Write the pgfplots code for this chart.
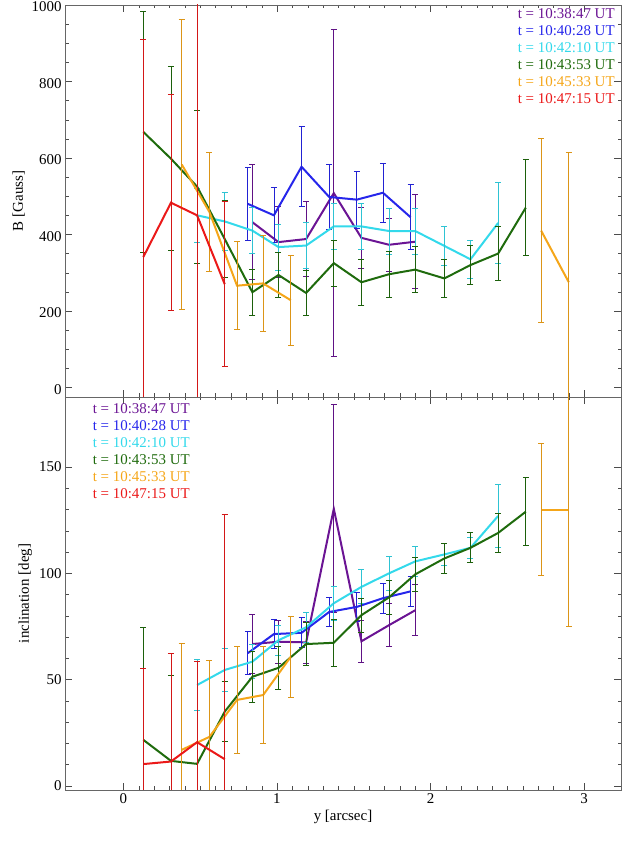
\documentclass[border=0pt]{standalone}
\usepackage{pgfplots}
\pgfplotsset{compat=1.18}
\usepackage{fontspec}
\setmainfont{Liberation Serif}
\definecolor{cpur}{rgb}{0.42,0.08,0.58}
\definecolor{cblu}{rgb}{0.15,0.15,0.92}
\definecolor{ccya}{rgb}{0.2,0.85,0.92}
\definecolor{cgre}{rgb}{0.12,0.42,0.05}
\definecolor{cora}{rgb}{0.96,0.65,0.1}
\definecolor{cred}{rgb}{0.92,0.1,0.1}
\newcommand\fs{\fontsize{15}{17}\selectfont}
\pgfplotsset{
 base/.style={scale only axis, width=556bp, xmin=-0.38, xmax=3.24,
  xtick={0,1,2,3}, minor x tick num=9, minor y tick num=3,
  tick style={black!70}, axis line style={black!60},
  tick align=inside, major tick length=7bp, minor tick length=3.5bp,
  /pgf/number format/assume math mode=true, tick label style={font=\fs},
  label style={font=\fs}, /pgf/number format/1000 sep={}},
 ser/.style={color=#1, solid, line width=2bp, no marks, error bars/.cd, y dir=both, y explicit,
  error mark options={rotate=90,mark size=3bp,#1!90!black,line width=0.9bp},
  error bar style={#1!90!black, line width=0.7bp, solid}},
}
\begin{document}
\begin{tikzpicture}[x=1bp,y=1bp]
\useasboundingbox (0,0) rectangle (623,841);
% ---------- top
\begin{axis}[base, at={(65bp,444bp)}, anchor=south west, height=392bp,
 ymin=-25, ymax=1000, ytick={0,200,400,600,800,1000}, xticklabels={},
 ylabel={B [Gauss]}, yticklabel style={yshift=-2bp}]
\addplot[ser=cpur] table[y error index=2]{
0.84 432 150
1.01 380 92
1.19 388 97
1.37 508 428
1.55 391 80
1.73 373 70
1.90 381 123
};
\addplot[ser=cblu] table[y error index=2]{
0.81 480 95
0.98 450 72
1.16 577 105
1.34 498 85
1.52 491 75
1.69 509 77
1.87 445 85
};
\addplot[ser=ccya] table[y error index=2]{
0.48 450 70
0.66 434 77
0.84 410 60
1.01 367 60
1.19 371 60
1.37 421 60
1.55 421 60
1.73 409 60
1.90 409 60
2.09 370 50
2.26 335 50
2.44 430 105
};
\addplot[ser=cgre] table[y error index=2]{
0.13 668 315
0.31 598 240
0.48 525 200
0.66 388 100
0.84 249 60
1.01 294 60
1.19 247 60
1.37 325 60
1.55 275 60
1.73 296 60
1.90 308 60
2.09 285 50
2.26 320 50
2.44 350 70
2.62 470 125
};
\addplot[ser=cora] table[y error index=2]{
0.38 583 380
0.56 459 155
0.74 266 115
0.91 272 125
1.09 228 118
};
\addplot[ser=cora] table[y error index=2]{
2.72 410 240
2.90 275 340
};
\addplot[ser=cred] table[y error index=2]{
0.13 341 570
0.31 483 283
0.48 450 560
0.66 270 215
};
\node[anchor=north east, align=right, font=\fs, inner sep=0pt] at (axis cs:3.2,990) {%
\textcolor{cpur}{t = 10:38:47 UT}\\\textcolor{cblu}{t = 10:40:28 UT}\\\textcolor{ccya}{t = 10:42:10 UT}\\%
\textcolor{cgre}{t = 10:43:53 UT}\\\textcolor{cora}{t = 10:45:33 UT}\\\textcolor{cred}{t = 10:47:15 UT}};
\end{axis}
% ---------- bottom
\begin{axis}[base, at={(65bp,51bp)}, anchor=south west, height=393bp,
 ymin=-2, ymax=183, ytick={0,50,100,150}, minor y tick num=4,
 ylabel={inclination [deg]}, xlabel={y [arcsec]}]
\addplot[ser=cpur] table[y error index=2]{
0.84 66.7 14
1.01 67.8 10
1.19 67.5 10
1.37 130.4 49
1.55 68 10
1.73 75.6 10
1.90 82.6 12
};
\addplot[ser=cblu] table[y error index=2]{
0.81 62.4 10
0.98 71.4 7
1.16 72 7
1.34 81.8 7
1.52 84.2 7
1.69 88.3 7
1.87 91.5 7
};
\addplot[ser=ccya] table[y error index=2]{
0.48 47.4 12
0.66 54.5 10
0.84 58.4 8
1.01 68.5 7
1.19 74.6 7
1.37 85.9 8
1.55 93.6 8
1.73 100 8
1.90 105.6 7
2.09 108.9 5
2.26 112 5
2.44 127 15
};
\addplot[ser=cgre] table[y error index=2]{
0.13 21.6 53
0.31 11.7 40
0.48 10.3 48
0.66 34.9 14
0.84 51.3 12
1.01 55.5 10
1.19 66.7 10
1.37 67.3 11
1.55 80.3 8
1.73 88.7 8
1.90 99.5 8
2.09 107 7
2.26 112 7
2.44 119 9
2.62 129 16
};
\addplot[ser=cora] table[y error index=2]{
0.38 16.9 50
0.56 23 36
0.74 40.4 25
0.91 42.7 23
1.09 60.7 19
};
\addplot[ser=cora] table[y error index=2]{
2.72 130 31
2.90 130 55
};
\addplot[ser=cred] table[y error index=2]{
0.13 10.2 45
0.31 11.4 51
0.48 20.5 38
0.66 12.5 115
};
\node[anchor=north west, align=left, font=\fs, inner sep=0pt] at (axis cs:-0.2,180) {%
\textcolor{cpur}{t = 10:38:47 UT}\\\textcolor{cblu}{t = 10:40:28 UT}\\\textcolor{ccya}{t = 10:42:10 UT}\\%
\textcolor{cgre}{t = 10:43:53 UT}\\\textcolor{cora}{t = 10:45:33 UT}\\\textcolor{cred}{t = 10:47:15 UT}};
\end{axis}
\end{tikzpicture}
\end{document}
